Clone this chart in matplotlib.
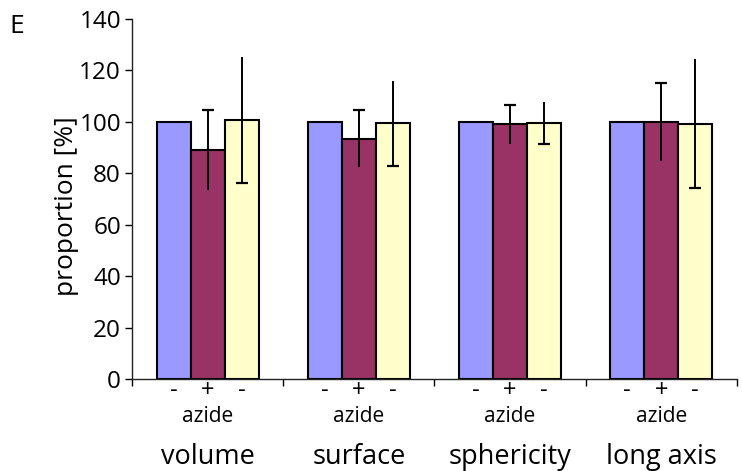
import matplotlib
matplotlib.use("Agg")
import matplotlib.pyplot as plt
import numpy as np

plt.rcParams["font.family"] = ["Open Sans", "DejaVu Sans"]

# ---- data ----
categories = ["volume", "surface", "sphericity", "long axis"]
conditions = ["-", "+", "-"]
control = [100, 100, 100, 100]
azide = [89.0, 93.5, 99.0, 99.8]
washout = [100.8, 99.5, 99.5, 99.3]
azide_err = [15.5, 11.0, 7.7, 15.2]
washout_err = [24.5, 16.5, 8.2, 25.0]

colors = ["#9999FF", "#993366", "#FFFFCC"]
bar_w = 0.225
offsets = [-bar_w, 0.0, bar_w]

fig = plt.figure(figsize=(7.42, 4.71), dpi=100)
ax = fig.add_axes([0.178, 0.195, 0.815, 0.765])

x = np.arange(len(categories)) + 0.5
series = [control, azide, washout]
for off, vals, col in zip(offsets, series, colors):
    ax.bar(x + off, vals, width=bar_w, color=col, edgecolor="black",
           linewidth=1.5, zorder=2)

# error bars: line only, cap drawn at one end like the original
ax.errorbar(x, azide, yerr=azide_err, fmt="none", ecolor="black",
            elinewidth=1.4, capsize=0, zorder=3)
ax.plot(x, np.array(azide) + np.array(azide_err), ls="none", marker="_",
        ms=9, mew=1.6, color="black", zorder=3)
ax.errorbar(x + bar_w, washout, yerr=washout_err, fmt="none", ecolor="black",
            elinewidth=1.4, capsize=0, zorder=3)
ax.plot(x + bar_w, np.array(washout) - np.array(washout_err), ls="none",
        marker="_", ms=9, mew=1.6, color="black", zorder=3)

ax.set_xlim(0, len(categories))
ax.set_ylim(0, 140)
ax.set_yticks(range(0, 141, 20))
ax.tick_params(axis="y", direction="out", length=5, width=1, labelsize=17.5, pad=3)

# group boundaries as major ticks, condition signs as minor tick labels
ax.set_xticks(range(len(categories) + 1))
ax.set_xticklabels([])
ax.tick_params(axis="x", which="major", direction="out", length=5, width=1)
minor_pos = [xi + o for xi in x for o in offsets]
ax.set_xticks(minor_pos, minor=True)
ax.set_xticklabels(conditions * len(categories), minor=True, fontsize=17)
ax.tick_params(axis="x", which="minor", length=0, pad=0)

for xi, name in zip(x, categories):
    ax.text(xi, -0.105, "azide", transform=ax.get_xaxis_transform(),
            ha="center", va="center", fontsize=15)
    ax.text(xi, -0.215, name, transform=ax.get_xaxis_transform(),
            ha="center", va="center", fontsize=19.5)

ax.set_ylabel("proportion [%]", fontsize=19)
ax.yaxis.set_label_coords(-0.088, 0.48)

for side in ["top", "right"]:
    ax.spines[side].set_visible(False)
for side in ["left", "bottom"]:
    ax.spines[side].set_linewidth(1.0)
    ax.spines[side].set_color("#222222")

fig.text(0.013, 0.943, "E", fontsize=19, ha="left", va="center")

fig.savefig("out.png", dpi=100, facecolor="white")
